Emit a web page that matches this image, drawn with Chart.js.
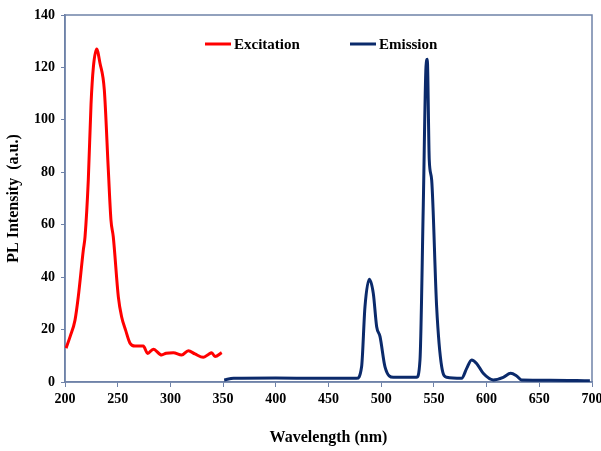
<!DOCTYPE html>
<html>
<head>
<meta charset="utf-8">
<script src="https://cdn.jsdelivr.net/npm/chart.js@4/dist/chart.umd.min.js"></script>
<style>
  body { margin: 0; background: #fff; }
  #wrap { width: 601px; height: 451px; }
</style>
</head>
<body>
<div id="wrap"><canvas id="chart"></canvas></div>
<script>
// excitation spectrum
var excWl  = [201, 205, 209.5, 212.6, 217.4, 219, 222.1, 224.7, 226.9, 230, 233.2, 237.3, 241.1, 243.6, 245.8, 250.6, 253.7, 257.5, 261.7, 266.4, 274.3, 278.4, 283.8, 291.7, 296, 302.8, 310.7, 317, 323.3, 331.2, 336, 339.2, 342.3, 348.7];
var excVal = [12.9, 17.5, 23.6, 32.5, 50.4, 55.4, 77, 106, 120, 127, 121.6, 111.4, 80.9, 61.8, 55.4, 32.5, 24.9, 19.8, 14.8, 13.7, 13.7, 10.9, 12.5, 10.3, 11, 11.2, 10.3, 11.9, 10.7, 9.4, 10.5, 11.2, 9.7, 11.2];

// emission spectrum
var emWl  = [351, 360, 400, 440, 476.7, 481.4, 484.6, 488.7, 492.5, 495.7, 498.9, 503.6, 511.5, 533.6, 536.8, 539.9, 542.5, 543.7, 545.6, 547.9, 552.6, 557.4, 562.1, 576.3, 581.1, 585.8, 590.5, 596.8, 606.3, 615.8, 622.8, 628.5, 633.2, 660, 698];
var emVal = [0.8, 1.4, 1.5, 1.4, 1.4, 5.8, 28.7, 39.2, 33.8, 21.1, 17.3, 5.8, 1.8, 1.8, 8.4, 66.9, 120.3, 123.1, 84.7, 77, 28.7, 5.8, 1.8, 1.4, 5.2, 8.4, 7.1, 3.3, 0.8, 1.8, 3.3, 2.3, 0.8, 0.7, 0.5];

var seriesNames = ['Excitation', 'Emission'];
var seriesColors = ['#ff0000', '#0b2a6b'];

var xTicks = [200, 250, 300, 350, 400, 450, 500, 550, 600, 650, 700];
var yTicks = [0, 20, 40, 60, 80, 100, 120, 140];

function toPoints(xs, ys) {
  var pts = [];
  for (var i = 0; i < xs.length; i++) pts.push({x: xs[i], y: ys[i]});
  return pts;
}

var axisColor = '#6f82a8';
var font = 'Liberation Serif';

// legend drawn inside the plot, Excel style
var innerLegend = {
  id: 'innerLegend',
  afterDraw: function(chart) {
    var ctx = chart.ctx;
    var pos = [205, 350];
    ctx.save();
    ctx.font = 'bold 15px "' + font + '"';
    ctx.textBaseline = 'middle';
    chart.data.datasets.forEach(function(ds, i) {
      ctx.strokeStyle = ds.borderColor;
      ctx.lineWidth = 3;
      ctx.beginPath();
      ctx.moveTo(pos[i], 44);
      ctx.lineTo(pos[i] + 26, 44);
      ctx.stroke();
      ctx.fillStyle = '#000';
      ctx.fillText(ds.label, pos[i] + 29, 45);
    });
    ctx.restore();
  }
};

// box around the plot area
var frame = {
  id: 'frame',
  beforeDatasetsDraw: function(chart) {
    var a = chart.chartArea;
    var ctx = chart.ctx;
    ctx.save();
    ctx.strokeStyle = axisColor;
    ctx.lineWidth = 1.5;
    ctx.strokeRect(a.left, a.top, a.right - a.left, a.bottom - a.top);
    ctx.restore();
  }
};

new Chart(document.getElementById('chart'), {
  type: 'line',
  data: {
    datasets: [
      {
        label: seriesNames[0],
        data: toPoints(excWl, excVal),
        borderColor: seriesColors[0],
        backgroundColor: seriesColors[0],
        borderWidth: 3,
        pointRadius: 0,
        tension: 0.35,
        cubicInterpolationMode: 'monotone'
      },
      {
        label: seriesNames[1],
        data: toPoints(emWl, emVal),
        borderColor: seriesColors[1],
        backgroundColor: seriesColors[1],
        borderWidth: 3,
        pointRadius: 0,
        tension: 0.35,
        cubicInterpolationMode: 'monotone'
      }
    ]
  },
  options: {
    responsive: true,
    maintainAspectRatio: false,
    animation: false,
    layout: { padding: { top: 15, right: 9, left: 0, bottom: 0 } },
    plugins: {
      legend: { display: false },
      tooltip: { enabled: false }
    },
    scales: {
      x: {
        type: 'linear',
        min: 200, max: 700,
        afterBuildTicks: function(axis) { axis.ticks = xTicks.map(function(v) { return {value: v}; }); },
        afterFit: function(axis) { axis.height = 69; axis.paddingLeft = 0; axis.paddingRight = 0; },
        border: { color: axisColor, width: 1.5 },
        grid: { drawOnChartArea: false, tickLength: 5, color: axisColor },
        ticks: { color: '#000', font: { family: font, size: 14, weight: 'bold' }, padding: 4, maxRotation: 0 },
        title: { display: true, text: 'Wavelength (nm)', color: '#000', font: { family: font, size: 16, weight: 'bold' }, padding: { top: 14 } }
      },
      y: {
        min: 0, max: 140,
        afterBuildTicks: function(axis) { axis.ticks = yTicks.map(function(v) { return {value: v}; }); },
        afterFit: function(axis) { axis.width = 65; axis.paddingTop = 0; axis.paddingBottom = 0; },
        border: { color: axisColor, width: 1.5 },
        grid: { drawOnChartArea: false, tickLength: 4, color: axisColor },
        ticks: { color: '#000', font: { family: font, size: 14, weight: 'bold' }, padding: 6 },
        title: { display: true, text: 'PL Intensity  (a.u.)', color: '#000', font: { family: font, size: 16, weight: 'bold' }, padding: { bottom: 4 } }
      }
    }
  },
  plugins: [frame, innerLegend]
});
</script>
</body>
</html>
